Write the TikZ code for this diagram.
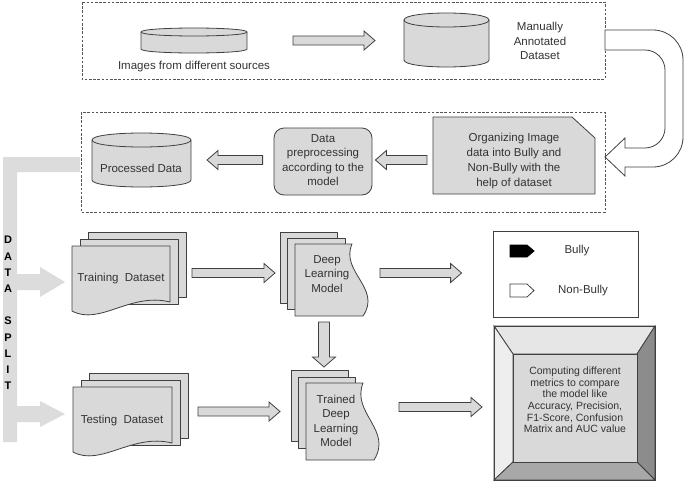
\documentclass[tikz,border=0pt]{standalone}
\usepackage{fontspec}
\setmainfont{Liberation Sans}
\usetikzlibrary{calc}
\definecolor{nfill}{HTML}{D9D9D9}
\definecolor{edge}{HTML}{404040}
\definecolor{framec}{HTML}{555555}
\definecolor{txt}{HTML}{333333}
\definecolor{barfill}{HTML}{DCDCDC}
\definecolor{bevtop}{HTML}{E6E6E6}
\definecolor{bevleft}{HTML}{EEEEEE}
\definecolor{bevright}{HTML}{8C8C8C}
\definecolor{bevbot}{HTML}{A8A8A8}
% block arrows: #1 start point (gives y), #2 tip point (gives x)
\newcommand\blkR[2]{\path[blk] let \p1=#1, \p2=#2 in
  (\x1,\y1+4.5pt) -- (\x2-11pt,\y1+4.5pt) -- (\x2-11pt,\y1+9.5pt) -- (\x2,\y1)
  -- (\x2-11pt,\y1-9.5pt) -- (\x2-11pt,\y1-4.5pt) -- (\x1,\y1-4.5pt) -- cycle;}
\newcommand\blkL[2]{\path[blk] let \p1=#1, \p2=#2 in
  (\x1,\y1+4.5pt) -- (\x2+11pt,\y1+4.5pt) -- (\x2+11pt,\y1+9.5pt) -- (\x2,\y1)
  -- (\x2+11pt,\y1-9.5pt) -- (\x2+11pt,\y1-4.5pt) -- (\x1,\y1-4.5pt) -- cycle;}
\newcommand\blkD[2]{\path[blk] let \p1=#1, \p2=#2 in
  (\x1-5.5pt,\y1) -- (\x1-5.5pt,\y2+10pt) -- (\x1-11.5pt,\y2+10pt) -- (\x1,\y2)
  -- (\x1+11.5pt,\y2+10pt) -- (\x1+5.5pt,\y2+10pt) -- (\x1+5.5pt,\y1) -- cycle;}
% cylinder: x1 x2 ytop ybot ry
\newcommand\mycyl[5]{%
  \path[shp] (#1,#3+#5) -- (#1,#4-#5) .. controls (#1,#4+0.333*#5) and (#2,#4+0.333*#5) .. (#2,#4-#5)
    -- (#2,#3+#5) .. controls (#2,#3-0.333*#5) and (#1,#3-0.333*#5) .. (#1,#3+#5) -- cycle;
  \draw[edge,line width=0.8pt] (#1,#3+#5) .. controls (#1,#3+2.333*#5) and (#2,#3+2.333*#5) .. (#2,#3+#5);}
\begin{document}
\begin{tikzpicture}[x=1pt,y=-1pt,
  shp/.style={fill=nfill,draw=edge,line width=0.8pt,line join=round},
  blk/.style={fill=nfill,draw=edge,line width=0.8pt,line join=miter},
  frame/.style={draw=framec,line width=0.75pt,dash pattern=on 2.6pt off 1.6pt},
  lbl/.style={text=txt,font=\fontsize{11.5}{14.3}\selectfont,align=center,inner sep=0pt},
  sml/.style={text=txt,font=\fontsize{10.5}{11.6}\selectfont,align=center,inner sep=0pt},
  hold/.style={draw=none,inner sep=0pt,outer sep=0pt},
]
\useasboundingbox[fill=white] (0,0) rectangle (685,482);

% ---------- frames ----------
\draw[frame] (82,2) rectangle (605,79);
\draw[frame] (81,112) rectangle (605,212);

% ---------- U-turn arrow ----------
\path[fill=white,draw=edge,line width=0.8pt,line join=miter]
  (605,30) -- (653,30) .. controls (669.6,30) and (683,43.4) .. (683,60)
  -- (683,137) .. controls (683,153.6) and (669.6,167) .. (653,167)
  -- (625,167) -- (625,176) -- (605,157) -- (625,138) -- (625,148)
  -- (645,148) .. controls (656,148) and (665,139) .. (665,128)
  -- (665,70) .. controls (665,59) and (656,50) .. (645,50) -- (605,50) -- cycle;

% ---------- data split bar ----------
\path[fill=barfill]
  (80,157) -- (3,157) -- (3,442) -- (17,442) -- (17,422) -- (40,422) -- (40,427)
  -- (65,414) -- (40,401) -- (40,406) -- (17,406) -- (17,290) -- (40,290) -- (40,297)
  -- (65,282) -- (40,267) -- (40,274) -- (17,274) -- (17,172) -- (80,172) -- cycle;
\node[text=black,font=\fontsize{11}{16.2}\selectfont\bfseries,align=center,inner sep=0pt]
  (split) at (8,313) {D\\A\\T\\A\\~\\S\\P\\L\\I\\T};

% ---------- top row ----------
\mycyl{141}{247}{28}{53}{4}
\node[hold,minimum width=106,minimum height=25] (src) at (194,40.5) {};
\node[lbl] (srct) at (194,67) {Images from different sources};
\mycyl{404}{489}{13}{67}{7}
\node[hold,minimum width=85,minimum height=54] (ann) at (446.5,40) {};
\node[lbl] (annt) at (540,41) {Manually\\Annotated\\Dataset};

% ---------- second row ----------
\path[shp] (433,117) -- (572,117) -- (595,138) -- (595,194) -- (433,194) -- cycle;
\node[hold,minimum width=162,minimum height=77] (org) at (514,155.5) {};
\node[lbl,font=\fontsize{11.5}{14.7}\selectfont] (orgt) at (514,161) {Organizing Image\\data into Bully and\\Non-Bully with the\\help of dataset};
\node[shp,rounded corners=10pt,minimum width=98,minimum height=67,inner sep=0pt] (pre) at (323,161.5) {};
\node[lbl] (pret) at (323,160) {Data\\preprocessing\\according to the\\model};
\mycyl{92}{191}{133}{187}{7}
\node[hold,minimum width=99,minimum height=54] (proc) at (141.5,160) {};
\node[lbl] (proct) at (141,168) {Processed Data};

% ---------- training stack ----------
\path[shp] (88,232) rectangle (186,297);
\path[shp] (80,239) rectangle (178,304);
\path[shp] (72,246) -- (170,246) -- (170,302) .. controls (130,292) and (100,326) .. (72,311) -- cycle;
\node[hold,minimum width=114,minimum height=86] (train) at (129,275) {};
\node[lbl] (traint) at (121,279) {Training~~Dataset};

% ---------- testing stack ----------
\path[shp] (89,373) rectangle (188,438);
\path[shp] (81,380) rectangle (180,445);
\path[shp] (73,387) -- (172,387) -- (172,443) .. controls (132,433) and (101,467) .. (73,452) -- cycle;
\node[hold,minimum width=115,minimum height=86] (test) at (130.5,416) {};
\node[lbl] (testt) at (122,421) {Testing~~Dataset};

% ---------- deep learning model stack ----------
\path[shp] (280,232) rectangle (337,303);
\path[shp] (287,238) rectangle (345,309);
\path[shp] (295,244) -- (352,244) .. controls (340,272) and (382,288) .. (363,316) -- (295,316) -- cycle;
\node[hold,minimum width=88,minimum height=84] (dlm) at (324,274) {};
\node[lbl] (dlmt) at (327,274) {Deep\\Learning\\Model};

% ---------- trained model stack ----------
\path[shp] (291,370) rectangle (348,441);
\path[shp] (298,377) rectangle (355,448);
\path[shp] (306,383) -- (363,383) .. controls (351,413) and (393,430) .. (374,460) -- (306,460) -- cycle;
\node[hold,minimum width=89,minimum height=90] (trn) at (335.5,415) {};
\node[lbl] (trnt) at (336,421) {Trained\\Deep\\Learning\\Model};

% ---------- legend ----------
\node[draw=edge,fill=white,line width=0.8pt,minimum width=145,minimum height=86,inner sep=0pt] (leg) at (565.5,274) {};
\path[fill=black,draw=black,line width=0.8pt] (510,245) -- (527,245) -- (534,251) -- (527,257) -- (510,257) -- cycle;
\path[fill=white,draw=edge,line width=0.8pt] (510,284) -- (527,284) -- (534,290.5) -- (527,297) -- (510,297) -- cycle;
\node[lbl] (bullyt) at (577,251) {Bully};
\node[lbl] (nbullyt) at (583,290.5) {Non-Bully};

% ---------- metrics bevel ----------
\path[fill=bevtop,draw=edge,line width=0.8pt] (494,326) -- (655,326) -- (637,354) -- (513,354) -- cycle;
\path[fill=bevleft,draw=edge,line width=0.8pt] (494,326) -- (513,354) -- (513,462) -- (494,480) -- cycle;
\path[fill=bevright,draw=edge,line width=0.8pt] (655,326) -- (655,480) -- (637,462) -- (637,354) -- cycle;
\path[fill=bevbot,draw=edge,line width=0.8pt] (494,480) -- (655,480) -- (637,462) -- (513,462) -- cycle;
\path[fill=nfill,draw=edge,line width=0.8pt] (513,354) rectangle (637,462);
\draw[edge,line width=0.9pt] (494,326) rectangle (655,480);
\node[hold,minimum width=161,minimum height=154] (met) at (574.5,403) {};
\node[sml] (mett) at (575,400) {Computing different\\metrics to compare\\the model like\\Accuracy, Precision,\\F1-Score, Confusion\\Matrix and AUC value};

% ---------- block arrows ----------
\blkR{([xshift=46pt]src.east)}{([xshift=-29pt]ann.west)}
\blkL{([shift={(-6pt,-4.5pt)}]org.west)}{([xshift=3pt]pre.east)}
\blkL{([shift={(-11pt,1.5pt)}]pre.west)}{([xshift=16pt]proc.east)}
\blkR{([shift={(6pt,2pt)}]train.east)}{([xshift=-5pt]dlm.west)}
\blkR{([shift={(12pt,1pt)}]dlm.east)}{([xshift=-31pt]leg.west)}
\blkD{([yshift=-6pt]dlm.south)}{([yshift=3pt]trn.north)}
\blkR{([shift={(10pt,4.5pt)}]test.east)}{([xshift=-11pt]trn.west)}
\blkR{([shift={(19pt,8pt)}]trn.east)}{([xshift=-12pt]met.west)}
\end{tikzpicture}
\end{document}
